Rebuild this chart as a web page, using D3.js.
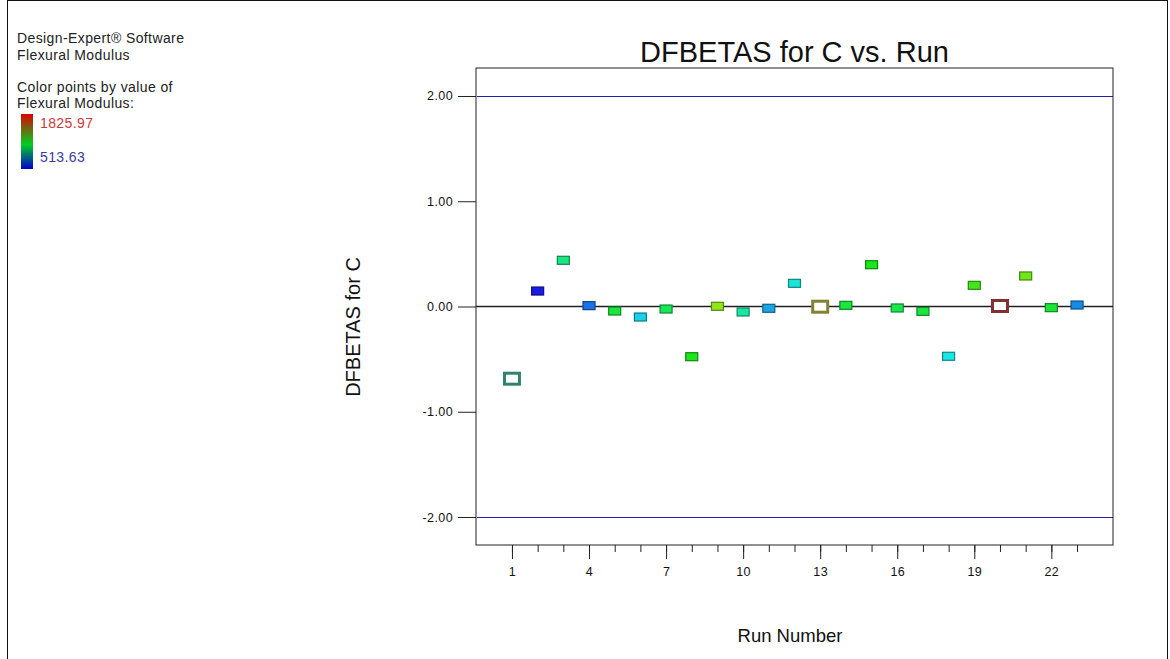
<!DOCTYPE html>
<html>
<head>
<meta charset="utf-8">
<script src="https://cdn.jsdelivr.net/npm/d3@7"></script>
<style>
	body { margin: 0; background: #fff; }
	text { font-family: Arial, "Liberation Sans", sans-serif; fill: #111; }
</style>
</head>
<body>
<div id="chart"></div>
<script>

/* run order and the DFBETAS value for factor C */
const runs = [1, 2, 3, 4, 5, 6, 7, 8, 9, 10, 11, 12, 13, 14, 15, 16, 17, 18, 19, 20, 21, 22, 23];
const dfbetas = [-0.686, 0.147, 0.439, 0.008, -0.043, -0.100, -0.024, -0.477, 0.002, -0.052, -0.017, 0.220,
	-0.002, 0.011, 0.397, -0.014, -0.046, -0.473, 0.201, 0.005, 0.290, -0.011, 0.014];

/* flexural modulus per run (estimated from point colour) */
const modulus = [924, 514, 1006, 656, 1115, 809, 1071, 1170, 1361, 951, 738, 869,
	1498, 1115, 1170, 1088, 1115, 842, 1235, 1826, 1307, 1126, 694];

/* runs drawn as open squares */
const openRuns = [1, 13, 20];

const yTicks = [-2, -1, 0, 1, 2];
const xMajorTicks = [1, 4, 7, 10, 13, 16, 19, 22];
const limitLines = [2, -2];
const colorRange = [513.63, 1825.97];

const legendLines = ["Design-Expert\u00AE Software", "Flexural Modulus", "", "Color points by value of", "Flexural Modulus:"];


const width = 1170, height = 659;
const plot = {left: 476, right: 1113, top: 68, bottom: 545};

const svg = d3.select("#chart").append("svg")
	.attr("width", width)
	.attr("height", height);

/* outer frame */
svg.append("rect")
	.attr("x", 7.5).attr("y", 0.5)
	.attr("width", 1160).attr("height", 680)
	.attr("fill", "none")
	.attr("stroke", "#111");

const xScale = d3.scaleLinear()
	.domain([-0.4, 24.4])
	.range([plot.left, plot.right]);

const yScale = d3.scaleLinear()
	.domain([-2.266, 2.266])
	.range([plot.bottom, plot.top]);

const hue = d3.scaleLinear()
	.domain(colorRange)
	.range([240, 0]);

function pointColor(v) {
	return d3.hsl(hue(v), 0.8, 0.5).formatHex();
}

/* legend, top left */
const legend = svg.append("g");
legend.selectAll("text.legend").data(legendLines).enter()
	.append("text")
	.attr("class", "legend")
	.attr("x", 17)
	.attr("y", (d, i) => 43 + i * 16.5 - (i > 2 ? 1 : 0))
	.style("font-size", "14px")
	.style("letter-spacing", "0.4px")
	.style("fill", "#222")
	.text(d => d);

const grad = svg.append("defs").append("linearGradient")
	.attr("id", "cbar")
	.attr("x1", 0).attr("y1", 0).attr("x2", 0).attr("y2", 1);
grad.append("stop").attr("offset", "0%").attr("stop-color", "#e00000");
grad.append("stop").attr("offset", "55%").attr("stop-color", "#00d020");
grad.append("stop").attr("offset", "100%").attr("stop-color", "#0000d0");

legend.append("rect")
	.attr("x", 21).attr("y", 114)
	.attr("width", 12).attr("height", 55)
	.attr("fill", "url(#cbar)");

legend.append("text")
	.attr("x", 40).attr("y", 128)
	.style("font-size", "14px")
	.style("letter-spacing", "0.4px")
	.style("fill", "#c83a3a")
	.text(colorRange[1].toFixed(2));

legend.append("text")
	.attr("x", 40).attr("y", 162)
	.style("font-size", "14px")
	.style("letter-spacing", "0.4px")
	.style("fill", "#3a3aa0")
	.text(colorRange[0].toFixed(2));

/* title */
svg.append("text")
	.attr("x", (plot.left + plot.right) / 2)
	.attr("y", 62)
	.style("text-anchor", "middle")
	.style("font-size", "29px")
	.text("DFBETAS for C vs. Run");

/* axes */
const yAxis = d3.axisLeft(yScale)
	.tickValues(yTicks)
	.tickSize(18)
	.tickPadding(5)
	.tickFormat(d => d.toFixed(2));

const xMinor = d3.axisBottom(xScale)
	.tickValues(runs)
	.tickSize(7)
	.tickFormat("");

const xMajor = d3.axisBottom(xScale)
	.tickValues(xMajorTicks)
	.tickSize(14)
	.tickPadding(8)
	.tickFormat(d => d);

const yG = svg.append("g")
	.attr("transform", "translate(" + plot.left + ",0)")
	.call(yAxis);

const xG1 = svg.append("g")
	.attr("transform", "translate(0," + plot.bottom + ")")
	.call(xMinor);

const xG2 = svg.append("g")
	.attr("transform", "translate(0," + plot.bottom + ")")
	.call(xMajor);

[yG, xG1, xG2].forEach(g => {
	g.select(".domain").remove();
	g.selectAll("line").attr("stroke", "#222");
	g.selectAll("text")
		.style("font-size", "12.5px")
		.style("letter-spacing", "0.4px")
		.style("font-family", "Arial, 'Liberation Sans', sans-serif")
		.attr("fill", "#222");
});

/* axis labels */
svg.append("text")
	.attr("transform", "translate(360,327) rotate(-90)")
	.style("text-anchor", "middle")
	.style("font-size", "20px")
	.text("DFBETAS for C");

svg.append("text")
	.attr("x", 790)
	.attr("y", 642)
	.style("text-anchor", "middle")
	.style("font-size", "18.5px")
	.text("Run Number");

/* reference lines at +/-2 */
svg.selectAll("line.limit").data(limitLines).enter()
	.append("line")
	.attr("class", "limit")
	.attr("x1", plot.left + 1).attr("x2", plot.right)
	.attr("y1", d => Math.round(yScale(d)) + 0.5).attr("y2", d => Math.round(yScale(d)) + 0.5)
	.attr("stroke", "#2020a8")
	.attr("stroke-width", 1.2);

svg.append("line")
	.attr("x1", plot.left).attr("x2", plot.right)
	.attr("y1", yScale(0)).attr("y2", yScale(0))
	.attr("stroke", "#222")
	.attr("stroke-width", 1.3);

/* plot frame */
svg.append("rect")
	.attr("x", plot.left).attr("y", plot.top)
	.attr("width", plot.right - plot.left)
	.attr("height", plot.bottom - plot.top)
	.attr("fill", "none")
	.attr("stroke", "#222");

/* points */
const points = runs.map((r, i) => ({run: r, value: dfbetas[i], mod: modulus[i], open: openRuns.includes(r)}));

svg.append("g").selectAll("rect").data(points).enter()
	.append("rect")
	.attr("x", d => xScale(d.run) - (d.open ? 7.5 : 6))
	.attr("y", d => yScale(d.value) - (d.open ? 5.5 : 4))
	.attr("width", d => d.open ? 15 : 12)
	.attr("height", d => d.open ? 11 : 8)
	.attr("fill", d => d.open ? "#fff" : pointColor(d.mod))
	.attr("stroke", d => d.open
		? d3.interpolateRgb(pointColor(d.mod), "#404040")(0.6)
		: d3.color(pointColor(d.mod)).darker(1.5))
	.attr("stroke-width", d => d.open ? 3 : 1.2);

</script>
</body>
</html>
